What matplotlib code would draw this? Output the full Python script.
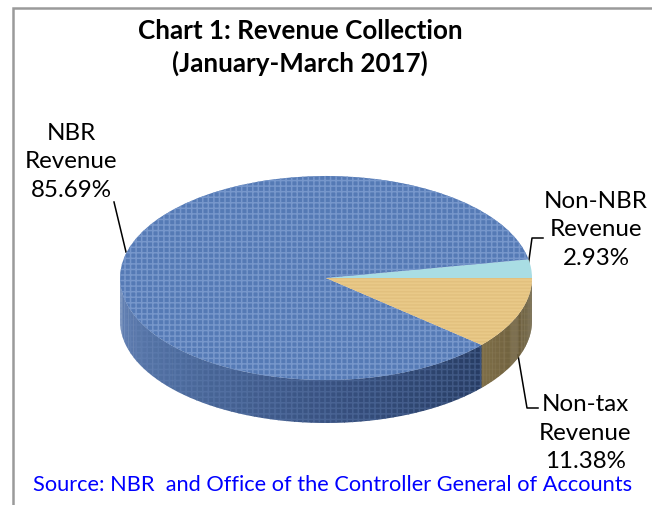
import numpy as np
import matplotlib
matplotlib.use("Agg")
import matplotlib.pyplot as plt
from matplotlib.patches import Polygon

plt.rcParams['font.family'] = ['Lato', 'DejaVu Sans']
plt.rcParams['hatch.linewidth'] = 1.1

# ---- data ----
categories = ["Non-NBR\nRevenue", "NBR\nRevenue", "Non-tax\nRevenue"]
shares = [2.93, 85.69, 11.38]
title_lines = "Chart 1: Revenue Collection\n(January-March 2017)"
source_note = "Source: NBR  and Office of the Controller General of Accounts"

# ---- styles ----
top_colors = ["#A9DDE4", "#557AB5", "#E9C988"]
top_hatch = ["", "+++", "-----"]
top_hatch_colors = ["#BFE8EC", "#7797CB", "#E2C07E"]
side_ramps = [None,
              ["#6583B6", "#4B6A9C", "#37507F", "#273C63"],
              ["#7E6E48", "#6C5E3C", "#5C5131"]]
W, H = 652, 505
cx, cy, rx, ry, depth = 326, 278, 206, 102, 43

fig = plt.figure(figsize=(W / 100, H / 100), dpi=100, facecolor="white")
page = fig.add_axes([0, 0, 1, 1])
page.set_xlim(0, W)
page.set_ylim(H, 0)
page.axis("off")

# chart frame (open at the right and the bottom edge, as cropped)
page.plot([12.5, 12.5, W], [H, 7.5, 7.5], color="#9A9A9A", lw=1.8, solid_joinstyle="miter")

# pie axes: one data unit = rx px horizontally and ry px vertically
xr, yb, yt = 1.25, -1.8, 1.25
pie_ax = fig.add_axes([(cx - xr * rx) / W, (H - cy + yb * ry) / H,
                       2 * xr * rx / W, (yt - yb) * ry / H])
wedges, _ = pie_ax.pie(shares, startangle=0, counterclock=True, radius=1,
                       colors=top_colors, wedgeprops=dict(linewidth=0))
pie_ax.set_aspect("auto")
pie_ax.set_xlim(-xr, xr)
pie_ax.set_ylim(yb, yt)
for w, h, hc in zip(wedges, top_hatch, top_hatch_colors):
    w.set_zorder(5)
    if h:
        w.set_hatch(h)
        w.set_edgecolor(hc)

# side wall derived from the shares
d = depth / ry
edges = np.concatenate([[0], np.cumsum(shares)]) * 3.6
for i, ramp in enumerate(side_ramps):
    a0, a1 = max(edges[i], 180), edges[i + 1]
    if ramp is None or a1 <= a0:
        continue
    ramp_rgb = np.array([matplotlib.colors.to_rgb(c) for c in ramp])
    steps = np.linspace(a0, a1, 61)
    for s0, s1 in zip(steps[:-1], steps[1:]):
        t = ((s0 + s1) / 2 - a0) / (a1 - a0) * (len(ramp) - 1)
        col = [np.interp(t, np.arange(len(ramp)), ramp_rgb[:, k]) for k in range(3)]
        th = np.radians([s0, s1 + 0.25])
        x, y = np.cos(th), np.sin(th)
        pie_ax.add_patch(Polygon([(x[0], y[0]), (x[1], y[1]), (x[1], y[1] - d), (x[0], y[0] - d)],
                                 closed=True, fc=col, ec="none", zorder=2))
    th = np.radians(np.linspace(a0, a1, 120))
    outline = np.r_[np.c_[np.cos(th), np.sin(th)], np.c_[np.cos(th[::-1]), np.sin(th[::-1]) - d]]
    pie_ax.add_patch(Polygon(outline, closed=True, fc="none", lw=0, zorder=3,
                             hatch="+++" if i == 1 else "---",
                             ec="#6C89BC55" if i == 1 else "#8C7C5544"))

# texts
page.text(300, 47.5, title_lines, ha="center", va="center", fontsize=18.7,
          fontweight="bold", color="black", linespacing=1.35, zorder=10)
label_pos = [(596, 230), (71, 162), (585, 433)]
for name, val, (lx, ly) in zip(categories, shares, label_pos):
    page.text(lx, ly, f"{name}\n{val:.2f}%", ha="center", va="center",
              fontsize=17.4, color="black", linespacing=1.45, zorder=10)
page.text(332.5, 485, source_note, ha="center", va="center", fontsize=15.7,
          color="#0000FF", zorder=10)

# leader lines
page.plot([114, 126], [202, 252], color="black", lw=1.1, zorder=10)
page.plot([543, 532, 528], [238, 238, 267], color="black", lw=1.1, zorder=10)
page.plot([518, 527, 538], [355, 408, 408], color="black", lw=1.1, zorder=10)

fig.savefig("out.png", dpi=100, facecolor="white")
